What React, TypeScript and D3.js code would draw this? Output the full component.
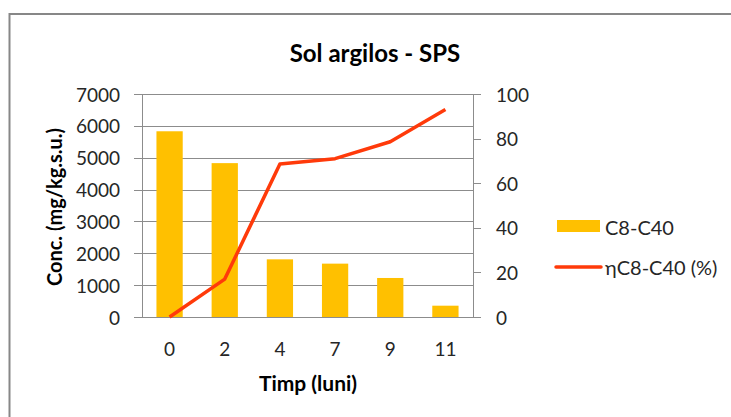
import React, { useEffect, useRef } from 'react';
import * as d3 from 'd3';

const months = ['0', '2', '4', '7', '9', '11'];
const concValues = [5830, 4830, 1810, 1675, 1225, 355];
const effValues = [0, 17, 68.6, 71, 78.6, 93.1];
const leftTicks = [0, 1000, 2000, 3000, 4000, 5000, 6000, 7000];
const rightTicks = [0, 20, 40, 60, 80, 100];
const legendLabels = ['C8-C40', 'ηC8-C40 (%)'];

export default function App() {
  const chartRef = useRef<SVGSVGElement>(null);

  useEffect(() => {
    const width = 731;
    const height = 417;
    const plot = { left: 142, right: 473, top: 94, bottom: 317 };
    const font = 'Lato, "Open Sans", sans-serif';
    const textColor = '#262626';
    const gridColor = '#8c8c8c';

    const svg = d3.select(chartRef.current);
    svg.selectAll('*').remove();
    svg.attr('width', width).attr('height', height);

    svg.append('rect')
      .attr('width', width).attr('height', height)
      .attr('fill', '#fff');

    // outer chart border
    svg.append('rect')
      .attr('x', 9.5).attr('y', 14)
      .attr('width', width + 10).attr('height', height + 10)
      .attr('fill', 'none')
      .attr('stroke', '#878787')
      .attr('stroke-width', 2);

    svg.append('text')
      .attr('x', 375).attr('y', 52)
      .attr('text-anchor', 'middle')
      .attr('dominant-baseline', 'central')
      .attr('font-family', font)
      .attr('font-weight', 'bold')
      .attr('font-size', 24)
      .attr('fill', '#000')
      .text('Sol argilos - SPS');

    const xScale = d3.scaleBand()
      .domain(months)
      .range([plot.left, plot.right])
      .padding(0);

    const yLeft = d3.scaleLinear().domain([0, 7000]).range([plot.bottom, plot.top]);
    const yRight = d3.scaleLinear().domain([0, 100]).range([plot.bottom, plot.top]);

    // gridlines (with outward tick on left and right)
    svg.append('g')
      .selectAll('line')
      .data(leftTicks)
      .enter()
      .append('line')
      .attr('x1', plot.left - 8)
      .attr('x2', d => (d === 0 ? plot.right + 8 : plot.right))
      .attr('y1', d => Math.round(yLeft(d)) + 0.5)
      .attr('y2', d => Math.round(yLeft(d)) + 0.5)
      .attr('stroke', gridColor)
      .attr('stroke-width', 1);

    // left and right axis lines
    [plot.left, plot.right].forEach(x => {
      svg.append('line')
        .attr('x1', x + 0.5).attr('x2', x + 0.5)
        .attr('y1', plot.top).attr('y2', plot.bottom)
        .attr('stroke', gridColor);
    });

    // right axis ticks
    svg.append('g')
      .selectAll('line')
      .data(rightTicks)
      .enter()
      .append('line')
      .attr('x1', plot.right)
      .attr('x2', plot.right + 8)
      .attr('y1', d => Math.round(yRight(d)) + 0.5)
      .attr('y2', d => Math.round(yRight(d)) + 0.5)
      .attr('stroke', gridColor);

    // left tick labels
    svg.append('g')
      .selectAll('text')
      .data(leftTicks)
      .enter()
      .append('text')
      .attr('x', 120)
      .attr('y', d => yLeft(d))
      .attr('text-anchor', 'end')
      .attr('dominant-baseline', 'central')
      .attr('font-family', font)
      .attr('font-size', 19)
      .attr('fill', textColor)
      .text(d => d);

    // right tick labels
    svg.append('g')
      .selectAll('text')
      .data(rightTicks)
      .enter()
      .append('text')
      .attr('x', 496)
      .attr('y', d => yRight(d))
      .attr('text-anchor', 'start')
      .attr('dominant-baseline', 'central')
      .attr('font-family', font)
      .attr('font-size', 19)
      .attr('fill', textColor)
      .text(d => d);

    // bars
    const barWidth = xScale.bandwidth() / 2.1;
    svg.append('g')
      .selectAll('rect')
      .data(concValues)
      .enter()
      .append('rect')
      .attr('x', (d, i) => xScale(months[i])! + xScale.bandwidth() / 2 - barWidth / 2)
      .attr('y', d => yLeft(d))
      .attr('width', barWidth)
      .attr('height', d => plot.bottom - yLeft(d))
      .attr('fill', '#FFC000');

    // line
    const line = d3.line<number>()
      .x((d, i) => xScale(months[i])! + xScale.bandwidth() / 2)
      .y(d => yRight(d));

    svg.append('path')
      .datum(effValues)
      .attr('d', line)
      .attr('fill', 'none')
      .attr('stroke', '#FF3A0A')
      .attr('stroke-width', 3.5)
      .attr('stroke-linejoin', 'round');

    // x labels
    svg.append('g')
      .selectAll('text')
      .data(months)
      .enter()
      .append('text')
      .attr('x', d => xScale(d)! + xScale.bandwidth() / 2)
      .attr('y', 348)
      .attr('text-anchor', 'middle')
      .attr('dominant-baseline', 'central')
      .attr('font-family', font)
      .attr('font-size', 19)
      .attr('fill', textColor)
      .text(d => d);

    // axis titles
    svg.append('text')
      .attr('x', 308).attr('y', 382)
      .attr('text-anchor', 'middle')
      .attr('dominant-baseline', 'central')
      .attr('font-family', font)
      .attr('font-weight', 'bold')
      .attr('font-size', 21)
      .attr('fill', '#000')
      .text('Timp (luni)');

    svg.append('text')
      .attr('transform', 'translate(54,207) rotate(-90)')
      .attr('text-anchor', 'middle')
      .attr('dominant-baseline', 'central')
      .attr('font-family', font)
      .attr('font-weight', 'bold')
      .attr('font-size', 20)
      .attr('fill', '#000')
      .text('Conc. (mg/kg.s.u.)');

    // legend
    const legend = svg.append('g');
    legend.append('rect')
      .attr('x', 557).attr('y', 220)
      .attr('width', 43).attr('height', 12)
      .attr('fill', '#FFC000');
    legend.append('line')
      .attr('x1', 556).attr('x2', 601)
      .attr('y1', 267).attr('y2', 267)
      .attr('stroke', '#FF3A0A')
      .attr('stroke-width', 3.5)
      .attr('stroke-linecap', 'round');
    legend.selectAll('text')
      .data(legendLabels)
      .enter()
      .append('text')
      .attr('x', 605)
      .attr('y', (d, i) => (i === 0 ? 226.5 : 266.5))
      .attr('dominant-baseline', 'central')
      .attr('font-family', font)
      .attr('font-size', 20)
      .attr('fill', textColor)
      .text(d => d);
  }, []);

  return <svg ref={chartRef} style={{ position: 'absolute', left: 0, top: 0 }} />;
}
